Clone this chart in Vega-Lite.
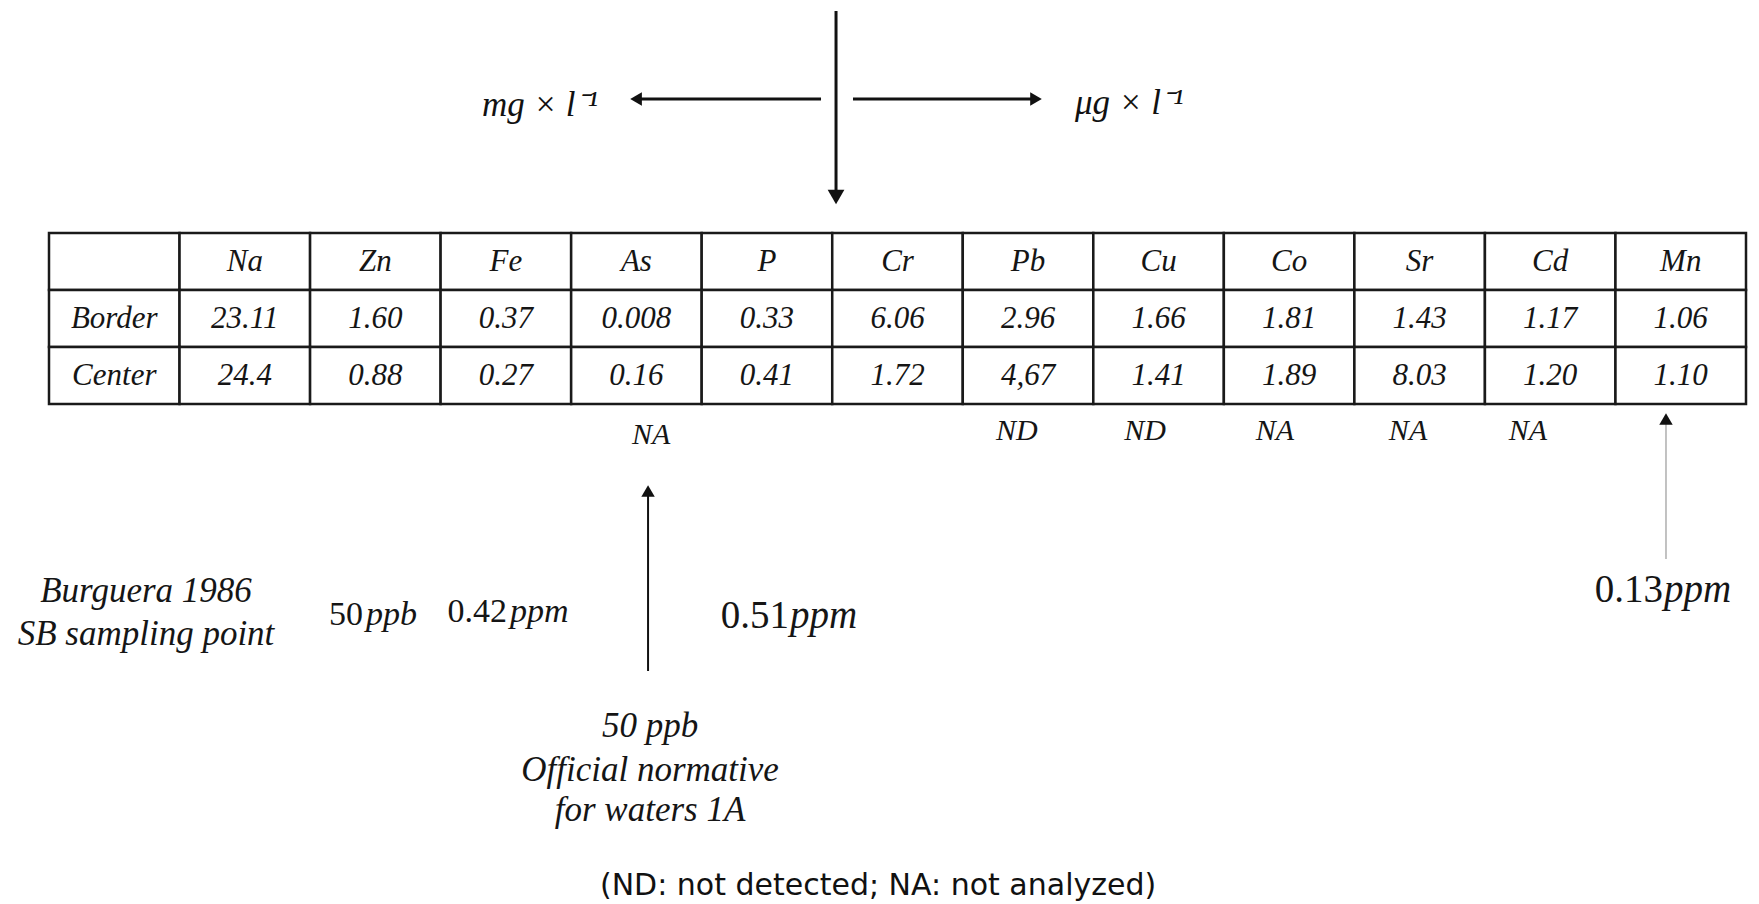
{
  "$schema": "https://vega.github.io/schema/vega-lite/v6.json",
  "width": 1759,
  "height": 904,
  "autosize": {"type": "none"},
  "padding": 0,
  "background": "white",
  "config": {"view": {"stroke": null}},
  "datasets": {
    "cells": [
      {"col": "label", "row": "header", "text": ""},
      {"col": "Na", "row": "header", "text": "Na"},
      {"col": "Zn", "row": "header", "text": "Zn"},
      {"col": "Fe", "row": "header", "text": "Fe"},
      {"col": "As", "row": "header", "text": "As"},
      {"col": "P", "row": "header", "text": "P"},
      {"col": "Cr", "row": "header", "text": "Cr"},
      {"col": "Pb", "row": "header", "text": "Pb"},
      {"col": "Cu", "row": "header", "text": "Cu"},
      {"col": "Co", "row": "header", "text": "Co"},
      {"col": "Sr", "row": "header", "text": "Sr"},
      {"col": "Cd", "row": "header", "text": "Cd"},
      {"col": "Mn", "row": "header", "text": "Mn"},
      {"col": "label", "row": "Border", "text": "Border"},
      {"col": "Na", "row": "Border", "text": "23.11"},
      {"col": "Zn", "row": "Border", "text": "1.60"},
      {"col": "Fe", "row": "Border", "text": "0.37"},
      {"col": "As", "row": "Border", "text": "0.008"},
      {"col": "P", "row": "Border", "text": "0.33"},
      {"col": "Cr", "row": "Border", "text": "6.06"},
      {"col": "Pb", "row": "Border", "text": "2.96"},
      {"col": "Cu", "row": "Border", "text": "1.66"},
      {"col": "Co", "row": "Border", "text": "1.81"},
      {"col": "Sr", "row": "Border", "text": "1.43"},
      {"col": "Cd", "row": "Border", "text": "1.17"},
      {"col": "Mn", "row": "Border", "text": "1.06"},
      {"col": "label", "row": "Center", "text": "Center"},
      {"col": "Na", "row": "Center", "text": "24.4"},
      {"col": "Zn", "row": "Center", "text": "0.88"},
      {"col": "Fe", "row": "Center", "text": "0.27"},
      {"col": "As", "row": "Center", "text": "0.16"},
      {"col": "P", "row": "Center", "text": "0.41"},
      {"col": "Cr", "row": "Center", "text": "1.72"},
      {"col": "Pb", "row": "Center", "text": "4,67"},
      {"col": "Cu", "row": "Center", "text": "1.41"},
      {"col": "Co", "row": "Center", "text": "1.89"},
      {"col": "Sr", "row": "Center", "text": "8.03"},
      {"col": "Cd", "row": "Center", "text": "1.20"},
      {"col": "Mn", "row": "Center", "text": "1.10"}
    ],
    "arrows": [
      {"name": "top-down", "x": 6.029, "y": -3.895, "x2": 6.029, "y2": -0.632, "dir": "down"},
      {"name": "top-left", "x": 5.914, "y": -2.351, "x2": 4.497, "y2": -2.351, "dir": "left"},
      {"name": "top-right", "x": 6.159, "y": -2.351, "x2": 7.561, "y2": -2.351, "dir": "right"},
      {"name": "As", "x": 4.589, "y": 7.684, "x2": 4.589, "y2": 4.526, "dir": "up"},
      {"name": "Mn", "x": 12.387, "y": 5.719, "x2": 12.387, "y2": 3.263, "dir": "up"}
    ],
    "units": [
      {"label": "mg × l⁻¹", "side": "left", "x": 4.206, "y": -2.25},
      {"label": "μg × l⁻¹", "side": "right", "x": 7.86, "y": -2.28}
    ],
    "notes": [
      {"label": "NA", "col": "As", "x": 4.612, "y": 3.544},
      {"label": "ND", "col": "Pb", "x": 7.415, "y": 3.474},
      {"label": "ND", "col": "Cu", "x": 8.396, "y": 3.474},
      {"label": "NA", "col": "Co", "x": 9.392, "y": 3.474},
      {"label": "NA", "col": "Sr", "x": 10.411, "y": 3.474},
      {"label": "NA", "col": "Cd", "x": 11.33, "y": 3.474}
    ],
    "measures": [
      {"num": "50", "unit": "ppb", "ref": "Burguera", "x": 2.405, "y": 6.702},
      {"num": "0.42", "unit": "ppm", "ref": "Burguera", "x": 3.508, "y": 6.649},
      {"num": "0.51", "unit": "ppm", "ref": "limit", "x": 5.669, "y": 6.719},
      {"num": "0.13", "unit": "ppm", "ref": "limit", "x": 12.364, "y": 6.263}
    ],
    "labels": [
      {"label": "Burguera 1986", "block": "source", "x": 0.743, "y": 6.281},
      {"label": "SB sampling point", "block": "source", "x": 0.743, "y": 7.035},
      {"label": "50 ppb", "block": "normative", "x": 4.604, "y": 8.649},
      {"label": "Official normative", "block": "normative", "x": 4.604, "y": 9.421},
      {"label": "for waters 1A", "block": "normative", "x": 4.604, "y": 10.123}
    ],
    "caption": [
      {"label": "(ND: not detected; NA: not analyzed)", "x": 6.351, "y": 11.456}
    ]
  },
  "resolve": {"scale": {"x": "independent", "y": "independent"}},
  "layer": [
    {
      "data": {"name": "cells"},
      "encoding": {
        "x": {"field": "col", "type": "nominal", "sort": null, "axis": null,
          "scale": {"domain": ["label", "Na", "Zn", "Fe", "As", "P", "Cr", "Pb", "Cu", "Co", "Sr", "Cd", "Mn"], "range": [49, 1746], "paddingInner": 0, "paddingOuter": 0}},
        "y": {"field": "row", "type": "nominal", "sort": null, "axis": null,
          "scale": {"domain": ["header", "Border", "Center"], "range": [233, 404], "paddingInner": 0, "paddingOuter": 0}}
      },
      "layer": [
        {"mark": {"type": "rect", "fill": "white", "stroke": "#1a1a1a", "strokeWidth": 2.5}},
        {"mark": {"type": "text", "font": "Liberation Serif", "fontStyle": "italic", "fontSize": 31, "color": "#151515", "baseline": "middle"},
          "encoding": {"text": {"field": "text"}}}
      ]
    },
    {
      "encoding": {
        "x": {"field": "x", "type": "quantitative", "axis": null,
          "scale": {"domain": [-0.3754, 13.0995], "nice": false, "zero": false}},
        "y": {"field": "y", "type": "quantitative", "axis": null,
          "scale": {"domain": [-4.0877, 11.7719], "nice": false, "zero": false, "reverse": true}}
      },
      "layer": [
        {
          "data": {"name": "arrows"},
          "transform": [{"filter": "indexof(datum.name, 'top') === 0"}],
          "mark": {"type": "rule", "color": "#111", "strokeWidth": 3},
          "encoding": {"x2": {"field": "x2"}, "y2": {"field": "y2"}}
        },
        {
          "data": {"name": "arrows"},
          "transform": [{"filter": "datum.name === 'As'"}],
          "mark": {"type": "rule", "color": "#111", "strokeWidth": 2},
          "encoding": {"x2": {"field": "x2"}, "y2": {"field": "y2"}}
        },
        {
          "data": {"name": "arrows"},
          "transform": [{"filter": "datum.name === 'Mn'"}],
          "mark": {"type": "rule", "color": "#9a9a9a", "strokeWidth": 1.2},
          "encoding": {"x2": {"field": "x2"}, "y2": {"field": "y2"}}
        },
        {
          "data": {"name": "arrows"},
          "transform": [{"filter": "datum.name === 'top-down'"}],
          "mark": {"type": "point", "filled": true, "color": "#111", "opacity": 1, "size": 280},
          "encoding": {"x": {"field": "x2", "type": "quantitative"}, "y": {"field": "y2", "type": "quantitative"},
            "shape": {"field": "dir", "type": "nominal", "legend": null,
              "scale": {"domain": ["down", "left", "right", "up"], "range": ["triangle-down", "triangle-left", "triangle-right", "triangle-up"]}}}
        },
        {
          "data": {"name": "arrows"},
          "transform": [{"filter": "datum.name !== 'top-down'"}],
          "mark": {"type": "point", "filled": true, "color": "#111", "opacity": 1, "size": 180},
          "encoding": {"x": {"field": "x2", "type": "quantitative"}, "y": {"field": "y2", "type": "quantitative"},
            "shape": {"field": "dir", "type": "nominal", "legend": null,
              "scale": {"domain": ["down", "left", "right", "up"], "range": ["triangle-down", "triangle-left", "triangle-right", "triangle-up"]}}}
        },
        {
          "data": {"name": "units"},
          "transform": [{"filter": "datum.side === 'left'"}],
          "mark": {"type": "text", "font": "Liberation Serif", "fontStyle": "italic", "fontSize": 35, "align": "right", "baseline": "middle", "color": "#111"},
          "encoding": {"text": {"field": "label"}}
        },
        {
          "data": {"name": "units"},
          "transform": [{"filter": "datum.side === 'right'"}],
          "mark": {"type": "text", "font": "Liberation Serif", "fontStyle": "italic", "fontSize": 35, "align": "left", "baseline": "middle", "color": "#111"},
          "encoding": {"text": {"field": "label"}}
        },
        {
          "data": {"name": "notes"},
          "mark": {"type": "text", "font": "Liberation Serif", "fontStyle": "italic", "fontSize": 30, "align": "center", "baseline": "middle", "color": "#151515"},
          "encoding": {"text": {"field": "label"}}
        },
        {
          "data": {"name": "measures"},
          "transform": [{"filter": "datum.ref === 'Burguera'"}],
          "mark": {"type": "text", "font": "Liberation Serif", "fontSize": 34, "align": "right", "baseline": "middle", "color": "#151515"},
          "encoding": {"text": {"field": "num"}}
        },
        {
          "data": {"name": "measures"},
          "transform": [{"filter": "datum.ref === 'Burguera'"}],
          "mark": {"type": "text", "font": "Liberation Serif", "fontStyle": "italic", "fontSize": 34, "align": "left", "baseline": "middle", "dx": 3, "color": "#151515"},
          "encoding": {"text": {"field": "unit"}}
        },
        {
          "data": {"name": "measures"},
          "transform": [{"filter": "datum.ref === 'limit'"}],
          "mark": {"type": "text", "font": "Liberation Serif", "fontSize": 39, "align": "right", "baseline": "middle", "color": "#151515"},
          "encoding": {"text": {"field": "num"}}
        },
        {
          "data": {"name": "measures"},
          "transform": [{"filter": "datum.ref === 'limit'"}],
          "mark": {"type": "text", "font": "Liberation Serif", "fontStyle": "italic", "fontSize": 39, "align": "left", "baseline": "middle", "dx": 1, "color": "#151515"},
          "encoding": {"text": {"field": "unit"}}
        },
        {
          "data": {"name": "labels"},
          "mark": {"type": "text", "font": "Liberation Serif", "fontStyle": "italic", "fontSize": 35, "align": "center", "baseline": "middle", "color": "#151515"},
          "encoding": {"text": {"field": "label"}}
        },
        {
          "data": {"name": "caption"},
          "mark": {"type": "text", "font": "DejaVu Sans", "fontSize": 30, "align": "center", "baseline": "middle", "color": "#111"},
          "encoding": {"text": {"field": "label"}}
        }
      ]
    }
  ]
}
